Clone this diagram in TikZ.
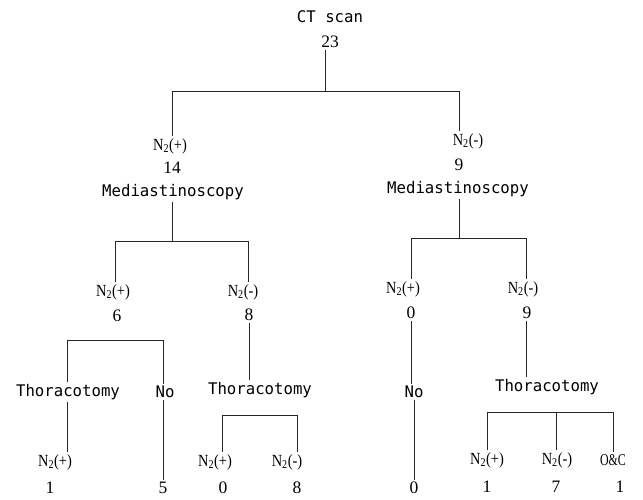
\documentclass[tikz,border=0pt]{standalone}
\usepackage{fontspec}
\newfontfamily\monof[FakeStretch=0.98]{DejaVu Sans Mono}
\newfontfamily\nsf[FakeStretch=0.85]{Liberation Serif}
\newfontfamily\ocf[FakeStretch=0.72]{Liberation Serif}
\newfontfamily\numf{Liberation Serif}
\begin{document}
\begin{tikzpicture}[x=1pt,y=-1pt,
  every node/.style={inner sep=2pt, anchor=center},
  mono/.style={font=\monof\fontsize{16}{18}\selectfont},
  num/.style={font=\numf\fontsize{17.5}{19}\selectfont},
  nlab/.style={font=\nsf\fontsize{17}{19}\selectfont},
  oclab/.style={font=\ocf\fontsize{16.5}{18}\selectfont},
  conn/.style={draw=black!85, line width=0.8pt}]
\useasboundingbox (0,0) rectangle (643,500);
% nodes
\node[mono] (ct) at (330,17) {CT scan};
\node[num] (n23) at (330,42) {23};
\node[nlab] (l1) at (170,146) {N\textsubscript{2}(+)};
\node[num] (l1n) at (172,168) {14};
\node[mono] (l1m) at (173,192) {Mediastinoscopy};
\node[nlab] (r1) at (468,141) {N\textsubscript{2}(-)};
\node[num] (r1n) at (459,165) {9};
\node[mono] (r1m) at (458,189) {Mediastinoscopy};
\node[nlab] (ll) at (113,292) {N\textsubscript{2}(+)};
\node[num] (lln) at (117,316) {6};
\node[nlab] (lr) at (243,292) {N\textsubscript{2}(-)};
\node[num] (lrn) at (249,315) {8};
\node[nlab] (rl) at (403,289) {N\textsubscript{2}(+)};
\node[num] (rln) at (411,313) {0};
\node[nlab] (rr) at (523,289) {N\textsubscript{2}(-)};
\node[num] (rrn) at (527,313) {9};
\node[mono] (llt) at (68,392) {Thoracotomy};
\node[mono] (lno) at (165,392) {No};
\node[nlab] (llt1) at (55,462) {N\textsubscript{2}(+)};
\node[num] (llt1n) at (50,488) {1};
\node[num] (lnon) at (163,488) {5};
\node[mono] (lrt) at (260,390) {Thoracotomy};
\node[nlab] (lrt1) at (215,462) {N\textsubscript{2}(+)};
\node[num] (lrt1n) at (223,488) {0};
\node[nlab] (lrt2) at (287,462) {N\textsubscript{2}(-)};
\node[num] (lrt2n) at (297,488) {8};
\node[mono] (rlno) at (414,392) {No};
\node[num] (rlnon) at (414,488) {0};
\node[mono] (rrt) at (547,387) {Thoracotomy};
\node[nlab] (rrt1) at (487,460) {N\textsubscript{2}(+)};
\node[num] (rrt1n) at (487,487) {1};
\node[nlab] (rrt2) at (557,460) {N\textsubscript{2}(-)};
\node[num] (rrt2n) at (556,487) {7};
\node[oclab] (rrt3) at (613,460) {O\&C};
\node[num] (rrt3n) at (620,487) {1};
% junction coordinates
\coordinate (j0) at (325,91);
\coordinate (a1) at (172,91);
\coordinate (a2) at (459,91);
\coordinate (b0) at (172,241);
\coordinate (b1) at (115,241);
\coordinate (b2) at (248,241);
\coordinate (c0) at (459,238);
\coordinate (c1) at (411,238);
\coordinate (c2) at (526,238);
\coordinate (d1) at (67,340);
\coordinate (d2) at (163,340);
\coordinate (e1) at (222,415);
\coordinate (e2) at (297,415);
\coordinate (f1) at (487,412);
\coordinate (f2) at (556,412);
\coordinate (f3) at (613,412);
% connectors
\draw[conn] (n23.south -| j0) -- (j0);
\draw[conn] (l1.north -| a1) -- (a1) -- (a2) -- (r1.north -| a2);
\draw[conn] (l1m.south -| b0) -- (b0);
\draw[conn] (ll.north -| b1) -- (b1) -- (b2) -- (lr.north -| b2);
\draw[conn] (r1m.south -| c0) -- (c0);
\draw[conn] (rl.north -| c1) -- (c1) -- (c2) -- (rr.north -| c2);
\draw[conn] (llt.north -| d1) -- (d1) -- (d2) -- (lno.north -| d2);
\draw[conn] (llt.south -| d1) -- (llt1.north -| d1);
\draw[conn] (lno.south -| d2) -- (lnon.north -| d2);
\draw[conn] (lrn.south) -- (lrt.north -| lrn);
\draw[conn] (lrt1.north -| e1) -- (e1) -- (e2) -- (lrt2.north -| e2);
\draw[conn] (rln.south -| c1) -- (rlno.north -| c1);
\draw[conn] (rlno.south) -- (rlnon.north);
\draw[conn] (rrn.south -| c2) -- (rrt.north -| c2);
\draw[conn] (rrt1.north -| f1) -- (f1) -- (f3) -- (rrt3.north -| f3);
\draw[conn] (f2) -- (rrt2.north -| f2);
\end{tikzpicture}
\end{document}
